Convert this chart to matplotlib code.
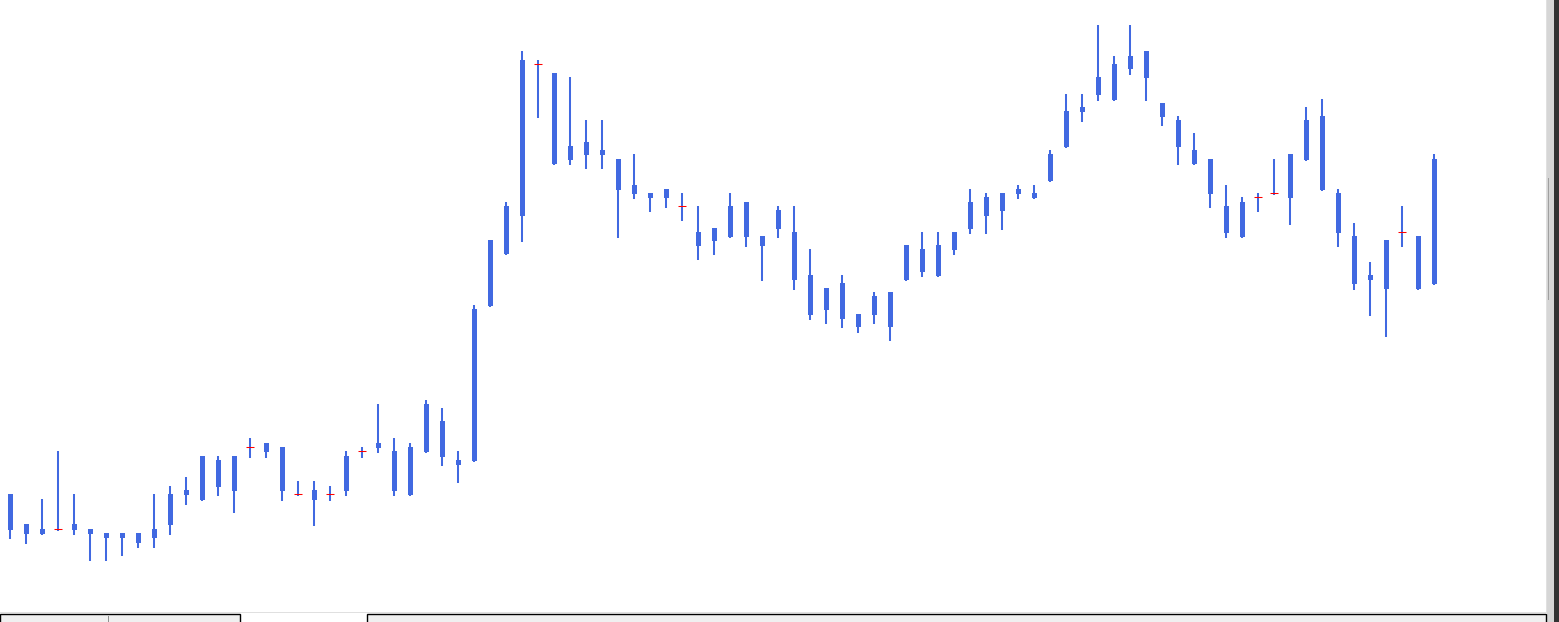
import matplotlib
matplotlib.use("Agg")
import matplotlib.pyplot as plt
from matplotlib.patches import Rectangle

# candle values (arbitrary price units, no axis shown)
highs = [128, 98, 123, 171, 128, 93, 89, 89, 89, 128, 136, 145, 166, 166, 166,
         184, 179, 175, 141, 141, 136, 171, 175, 218, 184, 179, 222, 214, 171, 317,
         382, 420, 571, 562, 549, 545, 502, 502, 463, 468, 429, 433, 429, 416, 394,
         429, 420, 386, 416, 416, 373, 334, 347, 308, 330, 330, 377, 390, 390, 390,
         433, 429, 429, 437, 437, 472, 528, 528, 597, 566, 597, 571, 519, 506, 489,
         463, 437, 425, 429, 463, 468, 515, 523, 433, 399, 360, 382, 416, 386, 468]
body_top = [128, 98, 93, 93, 98, 93, 89, 89, 89, 93, 128, 132, 166, 162, 166,
            175, 179, 175, 128, 132, 128, 166, 171, 179, 171, 175, 218, 201, 162, 313,
            382, 416, 562, 558, 549, 476, 480, 472, 463, 437, 429, 433, 416, 390, 394,
            416, 420, 386, 412, 390, 347, 334, 339, 308, 326, 330, 377, 373, 377, 390,
            420, 425, 429, 433, 429, 468, 511, 515, 545, 558, 566, 571, 519, 502, 472,
            463, 416, 420, 425, 429, 468, 502, 506, 429, 386, 347, 382, 390, 386, 463]
body_bottom = [92, 88, 88, 93, 92, 88, 84, 84, 79, 84, 97, 127, 122, 135, 131,
               175, 170, 131, 128, 122, 128, 131, 171, 174, 131, 127, 170, 165, 157, 161,
               316, 368, 406, 558, 458, 462, 467, 467, 432, 428, 424, 424, 416, 376, 381,
               385, 385, 376, 393, 342, 307, 312, 303, 295, 307, 295, 342, 350, 346, 372,
               393, 406, 411, 428, 424, 441, 475, 510, 527, 522, 553, 544, 505, 475, 458,
               428, 389, 385, 425, 429, 424, 462, 432, 389, 338, 342, 333, 390, 333, 338]
lows = [83, 78, 87, 91, 87, 61, 61, 66, 74, 74, 87, 117, 121, 126, 109,
        164, 164, 121, 126, 96, 121, 126, 164, 169, 126, 126, 169, 156, 139, 160,
        315, 367, 380, 504, 457, 457, 453, 453, 384, 423, 410, 414, 401, 362, 367,
        384, 375, 341, 384, 332, 302, 298, 294, 289, 298, 281, 341, 345, 345, 367,
        388, 388, 392, 423, 423, 440, 474, 500, 521, 521, 547, 521, 496, 457, 457,
        414, 384, 384, 410, 427, 397, 461, 431, 375, 332, 306, 285, 375, 332, 337]

BLUE = "#4169e1"
W, H = 1559, 622

fig = plt.figure(figsize=(W / 100, H / 100), dpi=100)
fig.patch.set_facecolor("white")

# window chrome drawn in pixel coordinates
chrome = fig.add_axes([0, 0, 1, 1])
chrome.set_xlim(0, W)
chrome.set_ylim(H, 0)
chrome.axis("off")
chrome.add_patch(Rectangle((1546, 0), 1, 613, color="#e0e0e0", lw=0))
chrome.add_patch(Rectangle((1547, 0), 7, H, color="#d6d6d6", lw=0))
chrome.add_patch(Rectangle((1548, 178), 1, 122, color="#a0a0a0", lw=0))
chrome.add_patch(Rectangle((1554, 0), 5, H, color="#333333", lw=0))
chrome.add_patch(Rectangle((0, 611.5), 1547, 1.5, color="#e0e0e0", lw=0))
chrome.add_patch(Rectangle((0, 613.5), 240.5, 9, facecolor="#f0f0f0",
                           edgecolor="black", lw=1))
chrome.add_patch(Rectangle((108, 616), 1, 6, color="#909090", lw=0))
chrome.add_patch(Rectangle((367.5, 613.5), 1179, 9, facecolor="#f0f0f0",
                           edgecolor="black", lw=1))

# chart area: 16 px per candle, first candle centred at x=10
ax = fig.add_axes([0, 10 / H, 1546 / W, 612 / H])
ax.patch.set_alpha(0)
ax.set_xlim(-10 / 16, (1546 - 10) / 16)
ax.set_ylim(10, 622)
ax.axis("off")

x = list(range(len(highs)))
ax.vlines(x, lows, highs, color=BLUE, lw=1.45)

bx = [i for i in x if body_top[i] != body_bottom[i]]
ax.bar(bx, [body_top[i] - body_bottom[i] for i in bx],
       bottom=[body_bottom[i] for i in bx], width=5 / 16,
       color=BLUE, lw=0, zorder=2)

dx = [i for i in x if body_top[i] == body_bottom[i]]
ax.hlines([body_top[i] for i in dx], [i - 0.22 for i in dx],
          [i + 0.22 for i in dx], color="red", lw=0.75, zorder=3)

plt.savefig("out.png", dpi=100)
